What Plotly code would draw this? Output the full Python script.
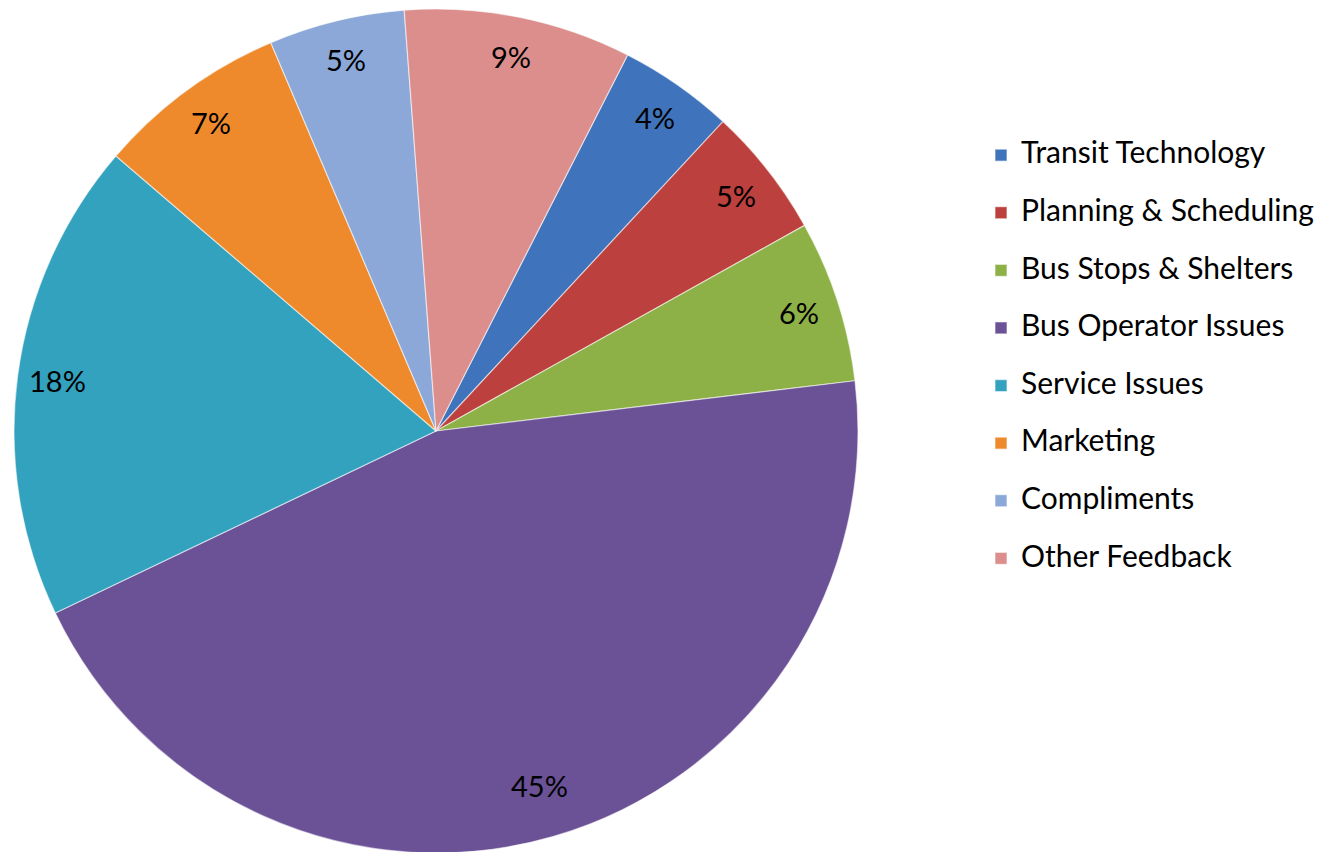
import math
import plotly.graph_objects as go

W, H = 1332, 852
OFF = 8  # page body margin in the screenshot

categories = ["Transit Technology", "Planning & Scheduling", "Bus Stops & Shelters",
              "Bus Operator Issues", "Service Issues", "Marketing", "Compliments",
              "Other Feedback"]
values = [4.4, 5.0, 6.2, 44.8, 18.4, 7.3, 5.2, 8.7]
colors = ["#3F74BC", "#BC403D", "#8DB147", "#6B5196", "#33A2BF", "#EE8A2C",
          "#8BA8D8", "#DC8E8D"]

rotation = 27
# pie geometry (pixels in the screenshot) -> domain
cx, cy, R = 436 - OFF, 431 - OFF, 422
dom_x = [(cx - R) / W, (cx + R) / W]
dom_y = [1 - (cy + R) / H, 1 - (cy - R) / H]

FONT = "Lato"

fig = go.Figure()
fig.add_trace(go.Pie(
    labels=[f"<span style='font-size:30px'>{c}</span><br>&nbsp;" for c in categories],
    values=values,
    sort=False,
    direction="clockwise",
    rotation=rotation,
    marker=dict(colors=colors, line=dict(color="rgba(255,255,255,0.55)", width=1.2)),
    textinfo="none",
    hoverinfo="label+percent",
    domain=dict(x=dom_x, y=dom_y),
))

# percent labels placed near the outer edge of each slice
label_rf = [0.905, 0.905, 0.905, 0.875, 0.905, 0.905, 0.905, 0.905]
total = sum(values)
cum = 0.0
annotations = []
for v, rf in zip(values, label_rf):
    mid = math.radians(rotation + 360 * (cum + v / 2) / total)
    cum += v
    px = cx + rf * R * math.sin(mid)
    py = cy - rf * R * math.cos(mid)
    annotations.append(dict(
        x=px / W, y=1 - py / H, xref="paper", yref="paper",
        text=f"{round(100 * v / total)}%", showarrow=False,
        font=dict(family=FONT, size=29, color="#000000"),
        xanchor="center", yanchor="middle",
    ))

fig.update_layout(
    width=W, height=H,
    margin=dict(l=0, r=0, t=0, b=0),
    paper_bgcolor="white",
    plot_bgcolor="white",
    annotations=annotations,
    showlegend=True,
    legend=dict(
        x=(978 - 5 - OFF + 8) / W, y=1 - (122 + 5 - OFF + 8) / H,
        xanchor="left", yanchor="top",
        font=dict(family=FONT, size=21, color="#000000"),
        valign="top",
        bgcolor="rgba(0,0,0,0)",
    ),
)

fig.write_html("out.html")
